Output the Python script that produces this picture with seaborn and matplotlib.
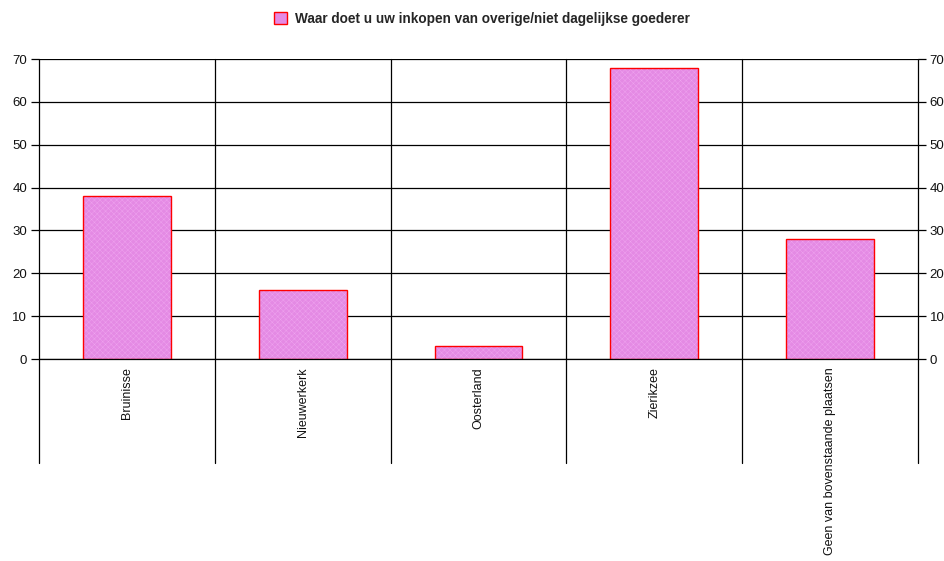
import matplotlib
matplotlib.use("Agg")
import matplotlib.pyplot as plt
import seaborn as sns
import pandas as pd
from matplotlib.patches import Patch

categories = ["Bruinisse", "Nieuwerkerk", "Oosterland", "Zierikzee", "Geen van bovenstaande plaatsen"]
values = [38, 16, 3, 68, 28]
series_name = "Waar doet u uw inkopen van overige/niet dagelijkse goederer"
yticks = [0, 10, 20, 30, 40, 50, 60, 70]

sns.set_style("white")
plt.rcParams["font.family"] = ["Liberation Sans", "DejaVu Sans"]

df = pd.DataFrame({"cat": categories, "val": values})

fig = plt.figure(figsize=(9.45, 5.61), dpi=100)
ax = fig.add_axes([39/945, 1-359/561, (918-39)/945, 300/561])

bar_color = "#E48AE4"
sns.barplot(data=df, x="cat", y="val", ax=ax, color=bar_color, width=0.5,
            edgecolor="#FF0000", linewidth=1.0, saturation=1, zorder=3)
for p in ax.patches:
    p.set_hatch("xxxxxx")
    p.set_hatch_linewidth(0.3)
    p._hatch_color = matplotlib.colors.to_rgba("#F0A6F0")

ax.set_xlim(-0.5, len(categories) - 0.5)
ax.set_ylim(0, 70)
ax.set_yticks(yticks)
ax.set_xlabel("")
ax.set_ylabel("")
ax.grid(axis="y", color="black", linewidth=0.9, zorder=0)
ax.axhline(0, color="black", linewidth=0.9, clip_on=False, zorder=4)
for s in ["top", "bottom", "left", "right"]:
    ax.spines[s].set_visible(False)

ax.tick_params(axis="y", which="both", left=True, right=True, labelleft=True, labelright=True,
               direction="out", length=6, width=0.9, color="black", labelsize=9.5, pad=2.5,
               labelcolor="#111111")
ax.tick_params(axis="x", bottom=False, length=0, labelsize=9, pad=6, labelcolor="#111111")
ax.set_xticks(range(len(categories)))
ax.set_xticklabels(categories, rotation=90, va="top", ha="center")

# category separator lines extending below axis
trans = ax.get_xaxis_transform()
for b in [i - 0.5 for i in range(len(categories) + 1)]:
    ax.plot([b, b], [1.0, -0.347], transform=trans, color="black", linewidth=0.9,
            clip_on=False, zorder=1)

handle = Patch(facecolor=bar_color, edgecolor="#FF0000", linewidth=1.0)
fig.legend([handle], [series_name], loc="center", bbox_to_anchor=(482/945, 1-19/561),
           frameon=False, prop={"weight": "bold", "size": 9.8}, handlelength=1.0,
           handleheight=1.0, handletextpad=0.6)

fig.savefig("out.png", dpi=100)
